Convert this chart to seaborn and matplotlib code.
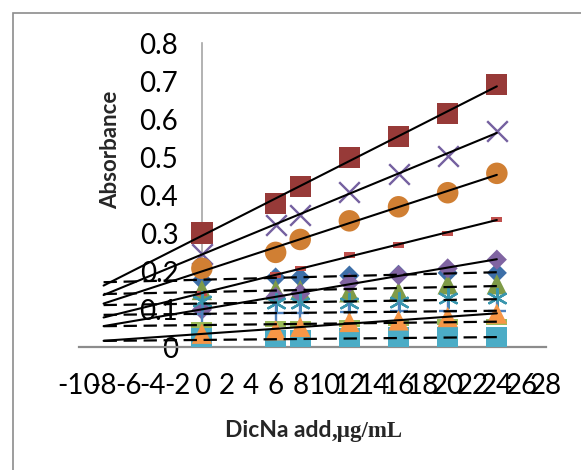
import numpy as np
import pandas as pd
import matplotlib
matplotlib.use("Agg")
import matplotlib.pyplot as plt
import seaborn as sns
from matplotlib.patches import Rectangle

# ---------------- data ----------------
x_add = [0, 6, 8, 12, 16, 20, 24]

abs_square_darkred = [0.300, 0.378, 0.422, 0.499, 0.554, 0.615, 0.690]
abs_x_purple = [0.246, 0.321, 0.347, 0.409, 0.455, 0.503, 0.569]
abs_circle_orange = [0.207, 0.249, 0.283, 0.332, 0.369, 0.406, 0.457]
abs_dash_red = [0.141, 0.189, 0.207, 0.242, 0.268, 0.299, 0.336]
abs_diamond_blue = [0.176, 0.183, 0.183, 0.188, 0.190, 0.195, 0.195]
abs_diamond_purple = [0.098, 0.132, 0.141, 0.169, 0.189, 0.207, 0.230]
abs_triangle_green = [0.150, 0.150, 0.150, 0.144, 0.145, 0.165, 0.165]
abs_star_teal = [0.120, 0.115, 0.115, 0.117, 0.118, 0.128, 0.128]
abs_plus_blue = [0.086, 0.090, 0.090, 0.092, 0.094, 0.094, 0.094]
abs_bar_lightgreen = [0.058, 0.060, 0.060, 0.062, 0.064, 0.066, 0.066]
abs_triangle_orange = [0.035, 0.044, 0.053, 0.066, 0.070, 0.079, 0.088]
abs_square_cyan = [0.022, 0.018, 0.018, 0.022, 0.025, 0.026, 0.026]

x_ticks = list(range(-10, 29, 2))
x_tick_labels = [str(v) for v in x_ticks]
y_ticks = [0, 0.1, 0.2, 0.3, 0.4, 0.5, 0.6, 0.7, 0.8]
y_tick_labels = ["0", "0.1", "0.2", "0.3", "0.4", "0.5", "0.6", "0.7", "0.8"]

y_label = "Absorbance"
x_label_a = "DicNa add"
x_label_b = ",\u00b5g/mL"

backward_start = -8

# ---------------- style ----------------
sns.set_theme(style="white")
plt.rcParams['font.family'] = ['Lato', 'DejaVu Sans']

bar_wide = [(-1, -0.3), (1, -0.3), (1, 0.3), (-1, 0.3), (-1, -0.3)]
bar_small = [(-1, -0.5), (1, -0.5), (1, 0.5), (-1, 0.5), (-1, -0.5)]

# (values, marker, color, size, linewidth, filled, trend style)
series = [
    (abs_square_cyan, "s", "#4bacc6", 225, 0, True, "dashed"),
    (abs_diamond_blue, "D", "#3d6fa8", 105, 0, True, "dashed"),
    (abs_triangle_green, "^", "#7f9b48", 215, 0, True, "dashed"),
    (abs_dash_red, bar_small, "#c0504d", 64, 0, True, "solid"),
    (abs_diamond_purple, "D", "#8064a2", 105, 0, True, "solid"),
    (abs_star_teal, (6, 2, 0), "#3a96ae", 185, 1.7, False, "dashed"),
    (abs_plus_blue, "+", "#4f81bd", 160, 1.7, False, "dashed"),
    (abs_bar_lightgreen, bar_wide, "#9bbb59", 225, 0, True, "dashed"),
    (abs_triangle_orange, "^", "#f79646", 215, 0, True, "solid"),
    (abs_square_darkred, "s", "#973a38", 235, 0, True, "solid"),
    (abs_x_purple, "x", "#7560a0", 220, 1.7, False, "solid"),
    (abs_circle_orange, "o", "#d07f33", 240, 0, True, "solid"),
]

fig = plt.figure(figsize=(5.81, 4.70), dpi=100)
ax = fig.add_axes([79 / 581, 123 / 470, 467 / 581, 304 / 470])

xs = np.array(x_add, dtype=float)
for i, (vals, mk, col, size, lw, filled, trend) in enumerate(series):
    df = pd.DataFrame({"x": x_add, "y": vals})
    if filled:
        sns.scatterplot(data=df, x="x", y="y", marker=mk, color=col, s=size,
                        linewidth=0, edgecolor="none", ax=ax, zorder=2 + i * 0.01,
                        clip_on=True)
    else:
        sns.scatterplot(data=df, x="x", y="y", marker=mk, color=col, s=size,
                        linewidth=lw, ax=ax, zorder=2 + i * 0.01, clip_on=True)

for i, (vals, mk, col, size, lw, filled, trend) in enumerate(series):
    slope, intercept = np.polyfit(xs, np.array(vals), 1)
    tx = np.array([backward_start, max(x_add)], dtype=float)
    ty = slope * tx + intercept
    if trend == "solid":
        ax.plot(tx, ty, color="black", lw=1.5, zorder=5)
    else:
        ax.plot(tx, ty, color="black", lw=1.6, zorder=5, linestyle=(0, (6, 3)))

ax.set_xlim(-10, 28)
ax.set_ylim(0, 0.8)
ax.set_xticks(x_ticks)
ax.set_xticklabels(x_tick_labels)
ax.set_yticks(y_ticks)
ax.set_yticklabels(y_tick_labels)
ax.tick_params(axis="both", length=0, labelsize=20, colors="black")
ax.tick_params(axis="y", pad=17)
ax.tick_params(axis="x", pad=19)
ax.set_xlabel("")
ax.set_ylabel("")

for s in ["top", "right"]:
    ax.spines[s].set_visible(False)
ax.spines["left"].set_position(("data", 0))
ax.spines["left"].set_color("#a6a6a6")
ax.spines["left"].set_linewidth(1.2)
ax.spines["bottom"].set_color("#8c8c8c")
ax.spines["bottom"].set_linewidth(1.6)
ax.spines["bottom"].set_zorder(1)
ax.spines["left"].set_zorder(1)
ax.patch.set_alpha(0)

# y label
fig.text(111 / 581, 1 - 150 / 470, y_label, rotation=90, ha="center", va="center",
         fontsize=16, fontweight="bold", family=["Lato", "DejaVu Sans"])

# x label (two fonts)
t1 = fig.text(225 / 581, 1 - 437 / 470, x_label_a, ha="left", va="baseline",
              fontsize=16.5, fontweight="bold", family=["Lato", "DejaVu Sans"])
fig.canvas.draw()
bb = t1.get_window_extent(fig.canvas.get_renderer())
fig.text(bb.x1 / fig.bbox.width, 1 - 437 / 470, x_label_b, ha="left", va="baseline",
         fontsize=16.5, fontweight="bold", family=["Liberation Serif", "DejaVu Serif"])

# chart area border (partly cut off)
fig.patches.append(Rectangle((13 / 581, -0.2), 1.2, 1.2 - 13 / 470,
                             transform=fig.transFigure, fill=False,
                             edgecolor="#8c8c8c", lw=1.2))

fig.savefig("out.png", dpi=100)
